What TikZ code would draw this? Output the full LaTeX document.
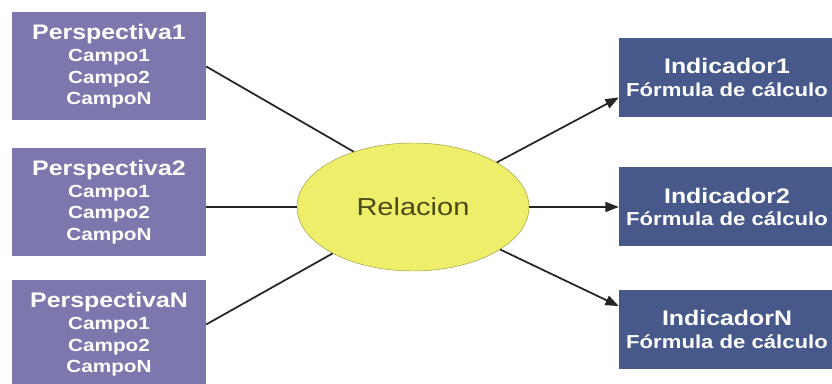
\documentclass[tikz,border=0pt]{standalone}
\usepackage{fontspec}
\setmainfont{Liberation Sans}[FakeStretch=1.18]
\usetikzlibrary{arrows.meta, positioning, shapes.geometric}

\definecolor{perspfill}{HTML}{7C78AE}
\definecolor{indfill}{HTML}{47598B}
\definecolor{relfill}{HTML}{EEEE6A}
\definecolor{reldraw}{HTML}{9C9C45}
\definecolor{reltext}{HTML}{4B4B1A}
\definecolor{linkcol}{HTML}{262626}

\begin{document}
\begin{tikzpicture}[
    persp/.style={
        fill=perspfill,
        text=white,
        align=center,
        font=\bfseries\fontsize{15}{18.4}\selectfont,
        minimum width=5.82cm,
        minimum height=3.24cm
    },
    indic/.style={
        fill=indfill,
        text=white,
        align=center,
        font=\bfseries\fontsize{16}{19.5}\selectfont,
        minimum width=6.48cm,
        minimum height=2.37cm
    },
    relation/.style={
        draw=reldraw, fill=relfill,
        ellipse,
        text=reltext,
        font=\fontsize{21}{24}\selectfont,
        minimum width=6.96cm,
        minimum height=3.84cm
    },
    link/.style={draw=linkcol, line width=1.5pt},
    arrow/.style={link, -{Triangle[length=4mm, width=3mm]}}
]
\useasboundingbox[fill=white] (0,0) rectangle (24.96,11.52);

% ===== LEFT COLUMN =====
\node[persp] (p1) at (3.27,9.525)
{{\fontsize{18}{18.4}\selectfont Perspectiva1}\\Campo1\\Campo2\\CampoN};

\node[persp, below=0.81cm of p1] (p2)
{{\fontsize{18}{18.4}\selectfont Perspectiva2}\\Campo1\\Campo2\\CampoN};

\node[persp, below=0.72cm of p2] (p3)
{{\fontsize{18}{18.4}\selectfont PerspectivaN}\\Campo1\\Campo2\\CampoN};

% ===== CENTRE =====
\node[relation] (rel) at (12.39,5.31) {Relacion};

% ===== RIGHT COLUMN =====
\node[indic] (i1) at (21.81,9.195)
{{\fontsize{18}{19.5}\selectfont Indicador1}\\Fórmula de cálculo};

\node[indic, below=1.5cm of i1] (i2)
{{\fontsize{18}{19.5}\selectfont Indicador2}\\Fórmula de cálculo};

\node[indic, below=1.29cm of i2] (i3)
{{\fontsize{18}{19.5}\selectfont IndicadorN}\\Fórmula de cálculo};

% ===== LINKS =====
\draw[link] (p1.east) -- (rel.137);
\draw[link] (rel.west -| p2.east) -- (rel.west);
\draw[link] ([yshift=0.3cm]p3.east) -- (rel.210);

% ===== ARROWS =====
\draw[arrow] (rel.28) -- ([yshift=-0.6cm]i1.west);
\draw[arrow] (rel.east) -- (rel.east -| i2.west);
\draw[arrow] (rel.334) -- ([yshift=0.7cm]i3.west);

\end{tikzpicture}
\end{document}
